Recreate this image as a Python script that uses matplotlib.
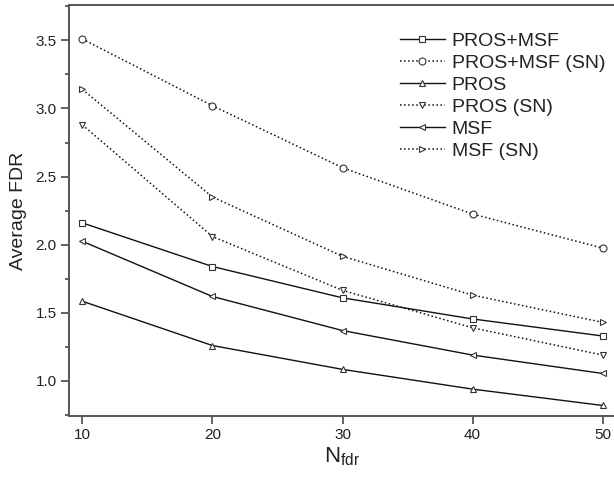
import matplotlib
matplotlib.use('Agg')
import matplotlib.pyplot as plt
from matplotlib.ticker import MultipleLocator

plt.rcParams['font.family'] = ['Liberation Sans', 'DejaVu Sans']
plt.rcParams['mathtext.fontset'] = 'custom'
plt.rcParams['mathtext.rm'] = 'Liberation Sans'
plt.rcParams['mathtext.it'] = 'Liberation Sans'

# valores
nfdr = [10, 20, 30, 40, 50]
pros_msf = [2.16, 1.84, 1.61, 1.455, 1.33]
pros_msf_sn = [3.51, 3.02, 2.565, 2.225, 1.975]
pros = [1.585, 1.26, 1.085, 0.94, 0.82]
pros_sn = [2.88, 2.06, 1.665, 1.39, 1.19]
msf = [2.025, 1.62, 1.37, 1.19, 1.055]
msf_sn = [3.14, 2.35, 1.915, 1.63, 1.43]

series = [
    ('PROS+MSF', pros_msf, 's', '-'),
    ('PROS+MSF (SN)', pros_msf_sn, 'o', ':'),
    ('PROS', pros, '^', '-'),
    ('PROS (SN)', pros_sn, 'v', ':'),
    ('MSF', msf, '<', '-'),
    ('MSF (SN)', msf_sn, '>', ':'),
]

fig = plt.figure(figsize=(6.14, 4.82), dpi=100)
ax = fig.add_axes([69.3 / 614, 1 - 415.7 / 482, (615.7 - 69.3) / 614, (415.7 - 5.3) / 482])

for nome, y, mk, ls in series:
    lw = 1.0 if ls == '-' else 1.1
    ax.plot(nfdr, y, color='#111111', linestyle=ls, linewidth=lw,
            marker=mk, markersize=5, markerfacecolor='white',
            markeredgecolor='#333333', markeredgewidth=0.8, label=nome)

ax.set_xlim(9, 51)
ax.set_ylim(0.745, 3.757)
ax.set_xticks([10, 20, 30, 40, 50])
ax.set_yticks([1.0, 1.5, 2.0, 2.5, 3.0, 3.5])
ax.yaxis.set_minor_locator(MultipleLocator(0.25))

for s in ax.spines.values():
    s.set_color('#555555')
    s.set_linewidth(1.4)
ax.spines['right'].set_visible(False)

ax.tick_params(which='major', direction='out', length=6, width=1.3,
               color='#555555', labelsize=11, labelcolor='#222222', pad=3)
ax.tick_params(which='minor', direction='out', length=3, width=1.3,
               color='#555555')

ax.set_ylabel('Average FDR', fontsize=14, color='#222222', labelpad=6)
ax.set_xlabel(r'N$_{\rm fdr}$', fontsize=16, color='#222222', labelpad=2)

ax.legend(loc='upper left', bbox_to_anchor=(400 / 614, 1 - 32.5 / 482),
          bbox_transform=fig.transFigure, frameon=False, fontsize=14,
          numpoints=1, handlelength=2.3, handletextpad=0.35,
          labelspacing=0.22, borderpad=0, borderaxespad=0, labelcolor='#222222')

plt.savefig('out.png', dpi=100)
